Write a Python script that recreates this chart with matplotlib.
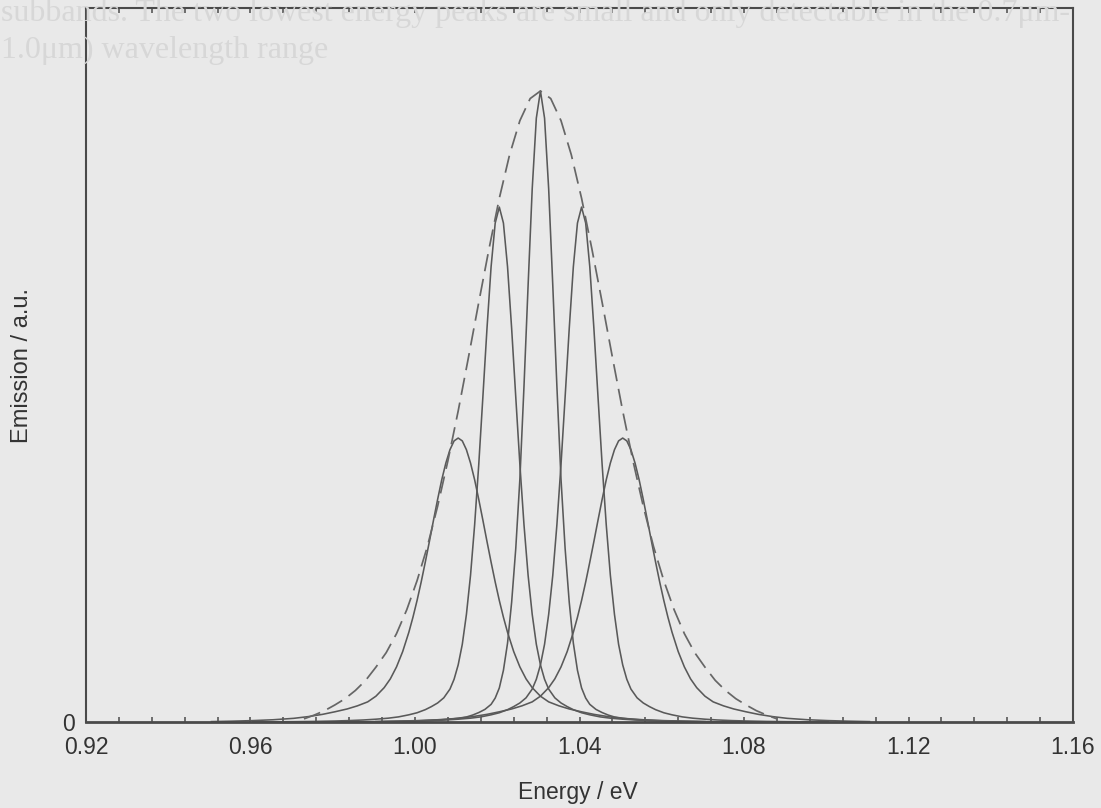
import numpy as np
import matplotlib
matplotlib.use('Agg')
import matplotlib.pyplot as plt

# --- datos (alturas normalizadas al maximo de la envolvente)
offsets = [-0.060, -0.055, -0.050, -0.045, -0.040, -0.0365, -0.033, -0.030, -0.027,
           -0.0245, -0.022, -0.020, -0.018, -0.0165, -0.015, -0.0135, -0.012, -0.011,
           -0.010, -0.009, -0.008, -0.007, -0.006, -0.005, -0.004, -0.003, -0.002,
           -0.001, 0.0,
           0.001, 0.002, 0.003, 0.004, 0.005, 0.006, 0.007, 0.008, 0.009, 0.010,
           0.011, 0.012, 0.0135, 0.015, 0.0165, 0.018, 0.020, 0.022, 0.0245, 0.027,
           0.030, 0.033, 0.0365, 0.040, 0.045, 0.050, 0.055, 0.060]

centre_profile = [0.0, 0.0001, 0.0002, 0.0003, 0.0005, 0.0008, 0.0012, 0.0018, 0.0025,
                  0.0033, 0.0045, 0.006, 0.008, 0.011, 0.015, 0.020, 0.028, 0.038,
                  0.054, 0.082, 0.125, 0.190, 0.275, 0.385, 0.532, 0.692, 0.845,
                  0.957, 1.0,
                  0.957, 0.845, 0.692, 0.532, 0.385, 0.275, 0.190, 0.125, 0.082, 0.054,
                  0.038, 0.028, 0.020, 0.015, 0.011, 0.008, 0.006, 0.0045, 0.0033, 0.0025,
                  0.0018, 0.0012, 0.0008, 0.0005, 0.0003, 0.0002, 0.0001, 0.0]

inner_profile = [0.0002, 0.0004, 0.0007, 0.0012, 0.002, 0.0028, 0.004, 0.0055, 0.0075,
                 0.010, 0.014, 0.018, 0.024, 0.030, 0.037, 0.047, 0.064, 0.083,
                 0.111, 0.151, 0.209, 0.285, 0.383, 0.500, 0.631, 0.764, 0.884,
                 0.969, 1.0,
                 0.969, 0.884, 0.764, 0.631, 0.500, 0.383, 0.285, 0.209, 0.151, 0.111,
                 0.083, 0.064, 0.047, 0.037, 0.030, 0.024, 0.018, 0.014, 0.010, 0.0075,
                 0.0055, 0.004, 0.0028, 0.002, 0.0012, 0.0007, 0.0004, 0.0002]

outer_profile = [0.0015, 0.003, 0.005, 0.008, 0.013, 0.019, 0.027, 0.036, 0.046,
                 0.057, 0.071, 0.091, 0.121, 0.152, 0.194, 0.248, 0.316, 0.369,
                 0.428, 0.493, 0.563, 0.636, 0.711, 0.784, 0.853, 0.912, 0.959,
                 0.990, 1.0,
                 0.990, 0.959, 0.912, 0.853, 0.784, 0.711, 0.636, 0.563, 0.493, 0.428,
                 0.369, 0.316, 0.248, 0.194, 0.152, 0.121, 0.091, 0.071, 0.057, 0.046,
                 0.036, 0.027, 0.019, 0.013, 0.008, 0.005, 0.003, 0.0015]

peak_centres = [1.0105, 1.0205, 1.0305, 1.0405, 1.0505]
peak_heights = [0.45, 0.816, 1.0, 0.816, 0.45]
peak_profiles = [outer_profile, inner_profile, centre_profile, inner_profile, outer_profile]

envelope_centre = 1.0305
envelope_offsets = [-0.0575, -0.055, -0.0525, -0.050, -0.0475, -0.045, -0.0425, -0.040,
                    -0.0375, -0.035, -0.0325, -0.030, -0.0275, -0.025, -0.0225, -0.020,
                    -0.0175, -0.015, -0.0125, -0.010, -0.0075, -0.005, -0.0025, 0.0,
                    0.0025, 0.005, 0.0075, 0.010, 0.0125, 0.015, 0.0175, 0.020, 0.0225,
                    0.025, 0.0275, 0.030, 0.0325, 0.035, 0.0375, 0.040, 0.0425, 0.045,
                    0.0475, 0.050, 0.0525, 0.055, 0.0575]
envelope_values = [0.005, 0.011, 0.018, 0.027, 0.037, 0.050, 0.066, 0.087,
                   0.110, 0.140, 0.178, 0.224, 0.278, 0.342, 0.414, 0.493,
                   0.578, 0.665, 0.750, 0.830, 0.899, 0.953, 0.988, 1.0,
                   0.988, 0.953, 0.899, 0.830, 0.750, 0.665, 0.578, 0.493, 0.414,
                   0.342, 0.278, 0.224, 0.178, 0.140, 0.110, 0.087, 0.066, 0.050,
                   0.037, 0.027, 0.018, 0.011, 0.005]

x_ticks = [0.92, 0.96, 1.00, 1.04, 1.08, 1.12, 1.16]
x_ticklabels = ['0.92', '0.96', '1.00', '1.04', '1.08', '1.12', '1.16']

page_lines = ['subbands. The two lowest energy peaks are small and only detectable in the 0.7\u03bcm-',
              '1.0\u03bcm) wavelength range']

# --- figura
plt.rcParams['font.family'] = ['Liberation Sans', 'DejaVu Sans']
bg = '#e9e9e9'
ink = '#4a4a4a'
line_col = '#595959'

fig = plt.figure(figsize=(11.01, 8.08), dpi=100, facecolor=bg)
ax = fig.add_axes([0.0781, 0.1064, 0.8965, 0.8837])
ax.set_facecolor('none')

for c, h, prof in zip(peak_centres, peak_heights, peak_profiles):
    ax.plot(c + np.array(offsets), h * np.array(prof), color=line_col, lw=1.15,
            solid_joinstyle='round')

ax.plot(envelope_centre + np.array(envelope_offsets), envelope_values,
        color='#666666', lw=1.25, dashes=(10, 4.5))

ax.set_xlim(0.92, 1.16)
ax.set_ylim(0, 1.1315)

ax.set_xticks(x_ticks)
ax.set_xticklabels(x_ticklabels)
ax.set_xticks(np.arange(0.928, 1.16, 0.008), minor=True)
ax.set_yticks([0])
ax.set_yticklabels(['0'])
ax.tick_params(axis='x', which='both', direction='in', top=True, length=3.5,
               width=1.1, color=ink, labelsize=16.5, labelcolor='#333333', pad=10)
ax.tick_params(axis='y', length=0, labelsize=16.5, labelcolor='#333333', pad=8)

for s in ax.spines.values():
    s.set_color(ink)
    s.set_linewidth(1.5)
ax.spines['bottom'].set_linewidth(2.0)

ax.set_xlabel('Energy / eV', fontsize=16.5, color='#333333')
ax.xaxis.set_label_coords(0.498, -0.082)
ax.set_ylabel('Emission / a.u.', fontsize=17, color='#333333')
ax.yaxis.set_label_coords(-0.054, 0.5)

# texto del reverso de la pagina, muy tenue
fig.text(0.001, 0.983, page_lines[0], family=['Liberation Serif', 'DejaVu Serif'],
         fontsize=23, color='#d7d7d7', ha='left', va='center', zorder=0)
fig.text(0.001, 0.938, page_lines[1], family=['Liberation Serif', 'DejaVu Serif'],
         fontsize=23, color='#d7d7d7', ha='left', va='center', zorder=0)

fig.savefig('out.png', dpi=100, facecolor=bg)
